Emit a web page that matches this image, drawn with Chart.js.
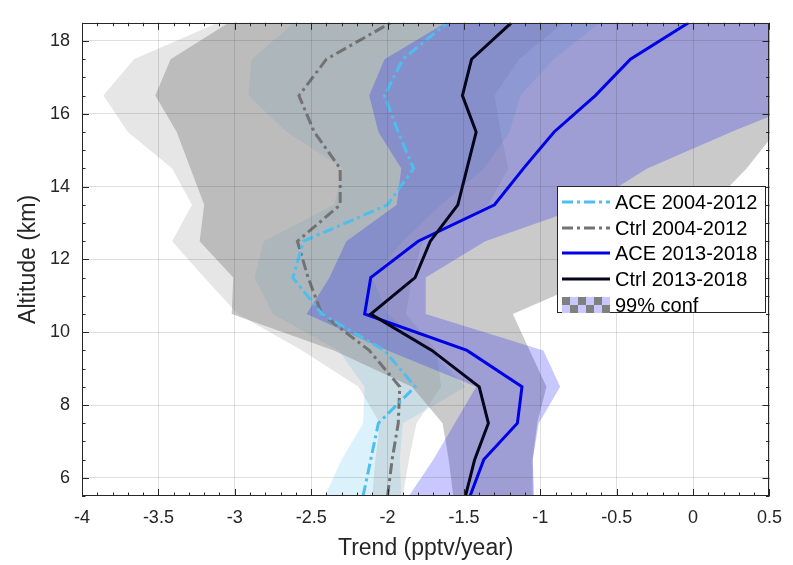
<!DOCTYPE html>
<html>
<head>
<meta charset="utf-8">
<style>
  html, body { margin: 0; padding: 0; background: #fff; }
  #wrap { width: 793px; height: 565px; }
</style>
</head>
<body>
<div id="wrap"><canvas id="chart" width="793" height="565"></canvas></div>
<script src="https://cdn.jsdelivr.net/npm/chart.js@4.4.1/dist/chart.umd.min.js"></script>
<script>
// altitude levels (km) shared by every profile
const altitude = [5.5, 6.5, 7.5, 8.5, 9.5, 10.5, 11.5, 12.5, 13.5, 14.5, 15.5, 16.5, 17.5, 18.5];

// trend profiles (pptv/year)
const aceOld  = [-2.16, -2.11, -2.06, -1.82, -2.02, -2.43, -2.62, -2.55, -2.00, -1.83, -1.93, -2.02, -1.90, -1.61];
const ctrlOld = [-2.00, -1.97, -1.93, -1.92, -2.12, -2.43, -2.52, -2.59, -2.31, -2.31, -2.48, -2.58, -2.40, -1.98];
const aceNew  = [-1.46, -1.37, -1.15, -1.12, -1.48, -2.15, -2.11, -1.80, -1.30, -1.11, -0.91, -0.64, -0.41, -0.03];
const ctrlNew = [-1.49, -1.43, -1.34, -1.40, -1.71, -2.11, -1.82, -1.72, -1.54, -1.48, -1.42, -1.51, -1.45, -1.19];

// 99% confidence bounds
const aceOldLo  = [-2.41, -2.30, -2.16, -2.15, -2.32, -2.75, -2.87, -2.81, -2.35, -2.29, -2.66, -2.91, -2.89, -2.61];
const aceOldHi  = [-1.91, -1.92, -1.90, -1.49, -1.72, -2.00, -2.10, -1.90, -1.65, -1.37, -1.20, -1.13, -0.91, -0.61];
const ctrlOldLo = [-2.10, -2.08, -2.05, -2.19, -2.56, -2.98, -3.20, -3.41, -3.28, -3.41, -3.70, -3.86, -3.66, -3.11];
const ctrlOldHi = [-1.90, -1.86, -1.81, -1.65, -1.68, -1.88, -1.84, -1.77, -1.34, -1.21, -1.26, -1.30, -1.14, -0.85];
const aceNewLo  = [-1.86, -1.70, -1.56, -1.42, -2.00, -2.53, -2.38, -2.27, -1.94, -1.91, -2.06, -2.12, -2.02, -1.62];
const aceNewHi  = [-1.04, -1.05, -1.01, -0.87, -0.98, -1.75, -1.75, -1.36, -0.68, -0.30, 0.25, 0.84, 1.20, 1.55];
const ctrlNewLo = [-1.57, -1.60, -1.64, -1.84, -2.35, -3.02, -3.01, -3.23, -3.20, -3.29, -3.38, -3.52, -3.42, -3.04];
const ctrlNewHi = [-1.05, -1.05, -1.02, -0.96, -1.07, -1.18, -0.63, -0.17, 0.12, 0.35, 0.54, 0.52, 0.55, 0.66];

const xTicks = [-4, -3.5, -3, -2.5, -2, -1.5, -1, -0.5, 0, 0.5];
const yTicks = [6, 8, 10, 12, 14, 16, 18];
const confLabel = "99% conf";
const legendOrder = ["ACE 2004-2012", "Ctrl 2004-2012", "ACE 2013-2018", "Ctrl 2013-2018"];

const AXIS = "#262626";
const FONT = '"Liberation Sans", Arial, Helvetica, sans-serif';

function profile(vals) {
  return altitude.map((a, i) => ({ x: vals[i], y: a }));
}

// closed outline: lower bound going up, upper bound coming back down
function band(lo, hi) {
  const pts = altitude.map((a, i) => ({ x: lo[i], y: a }));
  for (let i = altitude.length - 1; i >= 0; i--) pts.push({ x: hi[i], y: altitude[i] });
  return pts;
}

function bandSet(lo, hi, color, order) {
  return {
    label: "",
    data: band(lo, hi),
    fill: "shape",
    backgroundColor: color,
    borderColor: "rgba(0,0,0,0)",
    borderWidth: 1,
    pointRadius: 0,
    order: order
  };
}

function lineSet(label, vals, color, dash, order) {
  return {
    label: label,
    data: profile(vals),
    fill: false,
    borderColor: color,
    borderWidth: 3,
    borderDash: dash,
    pointRadius: 0,
    clip: 0,
    order: order
  };
}

/* =========================
   FRAME, TICKS AND LEGEND
========================= */
const frame = {
  id: "frame",
  afterDraw(chart) {
    const { ctx, chartArea: a, scales: { x, y } } = chart;
    ctx.save();
    ctx.strokeStyle = AXIS;
    ctx.lineWidth = 1;

    // minor ticks every 0.1 on x, 0.5 on y; major at labelled ticks
    ctx.beginPath();
    for (let v = -40; v <= 5; v++) {
      const px = Math.round(x.getPixelForValue(v / 10)) + 0.5;
      const len = v % 5 === 0 ? 7 : 3.5;
      ctx.moveTo(px, a.bottom); ctx.lineTo(px, a.bottom - len);
      ctx.moveTo(px, a.top); ctx.lineTo(px, a.top + len);
    }
    for (let v = 11; v <= 37; v++) {
      const py = Math.round(y.getPixelForValue(v / 2)) + 0.5;
      const len = v % 4 === 0 ? 7 : 3.5;
      ctx.moveTo(a.left, py); ctx.lineTo(a.left + len, py);
      ctx.moveTo(a.right, py); ctx.lineTo(a.right - len, py);
    }
    ctx.stroke();
    ctx.strokeRect(Math.round(a.left) + 0.5, Math.round(a.top) + 0.5,
      Math.round(a.right - a.left) - 1, Math.round(a.bottom - a.top) - 1);

    // legend box
    const lx = 557, ly = 186, lw = 209, lh = 127;
    ctx.fillStyle = "#fff";
    ctx.fillRect(lx, ly, lw, lh);
    ctx.strokeRect(lx + 0.5, ly + 0.5, lw - 1, lh - 1);

    const items = chart.data.datasets.filter(d => d.label);
    items.sort((p, q) => legendOrder.indexOf(p.label) - legendOrder.indexOf(q.label));
    ctx.font = "20px " + FONT;
    ctx.textBaseline = "middle";
    ctx.fillStyle = "#000";
    const rowY = [202, 228, 253, 279];
    items.forEach((d, i) => {
      const yy = rowY[i];
      ctx.save();
      ctx.strokeStyle = d.borderColor;
      ctx.lineWidth = 3;
      ctx.setLineDash(d.borderDash || []);
      ctx.beginPath();
      ctx.moveTo(562, yy); ctx.lineTo(610, yy);
      ctx.stroke();
      ctx.restore();
      ctx.fillText(d.label, 615, yy + 1);
    });

    // checkered patch for the confidence bands
    const cy = 297, sq = 8;
    for (let c = 0; c < 6; c++) {
      for (let r = 0; r < 2; r++) {
        ctx.fillStyle = (c + r) % 2 === 0 ? "#808080" : "#c8c8ff";
        ctx.fillRect(562 + c * sq, cy + r * sq, sq, sq);
      }
    }
    ctx.fillStyle = "#000";
    ctx.fillText(confLabel, 615, cy + sq + 1);
    ctx.restore();
  }
};

Chart.defaults.font.family = FONT;
Chart.defaults.color = AXIS;

new Chart(document.getElementById("chart"), {
  type: "line",
  data: {
    datasets: [
      lineSet("Ctrl 2013-2018", ctrlNew, "#05051c", [], 1),
      lineSet("ACE 2013-2018", aceNew, "#0000e6", [], 2),
      lineSet("ACE 2004-2012", aceOld, "#4dbeee", [11, 4, 3, 4], 3),
      lineSet("Ctrl 2004-2012", ctrlOld, "#737373", [11, 4, 3, 4], 4),
      bandSet(aceNewLo, aceNewHi, "rgba(0,0,255,0.215)", 7),
      bandSet(ctrlNewLo, ctrlNewHi, "rgba(128,128,128,0.42)", 8),
      bandSet(ctrlOldLo, ctrlOldHi, "rgba(128,128,128,0.2)", 9),
      bandSet(aceOldLo, aceOldHi, "rgba(77,190,238,0.2)", 10)
    ]
  },
  options: {
    responsive: false,
    animation: false,
    devicePixelRatio: 1,
    indexAxis: "y",
    layout: { padding: { top: 8, right: 15, left: 0, bottom: 0 } },
    plugins: {
      legend: { display: false },
      tooltip: { enabled: false }
    },
    elements: { line: { tension: 0 } },
    scales: {
      x: {
        type: "linear",
        position: "bottom",
        min: -4,
        max: 0.5,
        afterBuildTicks: s => { s.ticks = xTicks.map(v => ({ value: v })); },
        afterFit: s => { s.height = 69; },
        grid: { color: "rgba(38,38,38,0.15)", z: 1, drawTicks: false },
        border: { display: false },
        ticks: {
          callback: v => String(v),
          font: { size: 18 },
          color: AXIS,
          padding: 11,
          maxRotation: 0,
          autoSkip: false
        },
        title: {
          display: true,
          text: "Trend (pptv/year)",
          font: { size: 23 },
          color: AXIS,
          padding: { top: 3, bottom: 3 }
        }
      },
      y: {
        type: "linear",
        position: "left",
        min: 5.5,
        max: 18.5,
        afterBuildTicks: s => { s.ticks = yTicks.map(v => ({ value: v })); },
        afterFit: s => { s.width = 82; },
        grid: { color: "rgba(38,38,38,0.15)", z: 1, drawTicks: false },
        border: { display: false },
        ticks: {
          callback: v => String(v),
          font: { size: 18 },
          color: AXIS,
          padding: 12,
          autoSkip: false
        },
        title: {
          display: true,
          text: "Altitude (km)",
          font: { size: 23 },
          color: AXIS,
          padding: { top: 15, bottom: 15 }
        }
      }
    }
  },
  plugins: [frame]
});
</script>
</body>
</html>
